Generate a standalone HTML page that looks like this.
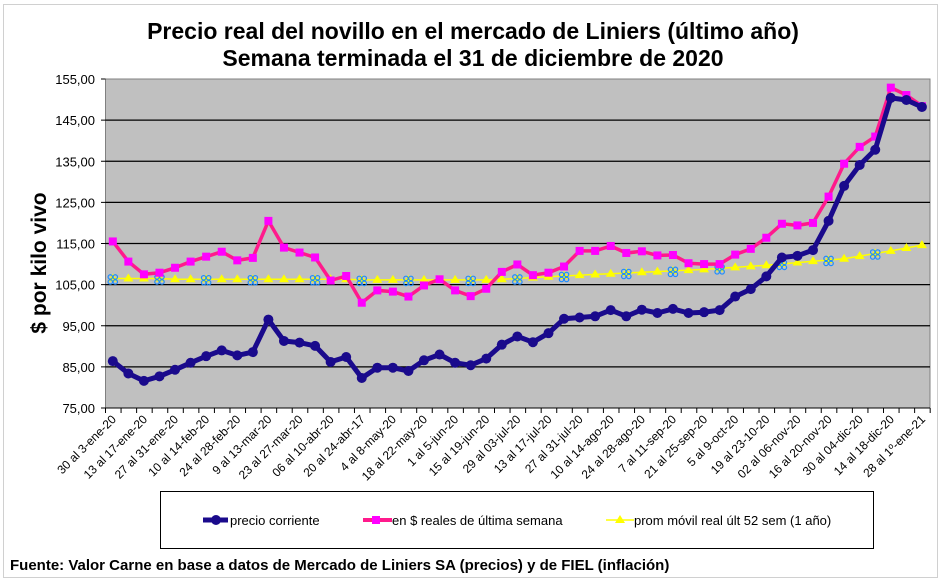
<!DOCTYPE html>
<html><head><meta charset="utf-8"><style>
html,body{margin:0;padding:0;background:#fff;}
svg{display:block;font-family:"Liberation Sans",Arial,sans-serif;}
</style></head><body>
<svg id="s" width="947" height="583" xmlns="http://www.w3.org/2000/svg">
<rect x="3.5" y="4.5" width="934" height="573" fill="#fff" stroke="#d0d0d0"/>
<text x="473" y="39" text-anchor="middle" font-weight="bold" font-size="23">Precio real del novillo en el mercado de Liniers (último año)</text>
<text x="473" y="66" text-anchor="middle" font-weight="bold" font-size="23">Semana terminada el 31 de diciembre de 2020</text>
<rect x="105.5" y="79" width="824.5" height="329" fill="#c0c0c0" stroke="#808080"/>
<g id="grid"></g>
<text transform="translate(46,263) rotate(-90)" text-anchor="middle" font-weight="bold" font-size="21">$ por kilo vivo</text>
<g id="ser"></g>
<rect x="160.5" y="491.5" width="713" height="57" fill="#fff" stroke="#000"/>
<line x1="203" y1="520" x2="228" y2="520" stroke="#1a0a8c" stroke-width="5"/><circle cx="216" cy="520" r="5" fill="#1a0a8c"/>
<text x="230" y="525" font-size="13">precio corriente</text>
<line x1="363" y1="520" x2="392" y2="520" stroke="#ff1a8c" stroke-width="4"/><rect x="372" y="516" width="8" height="8" fill="#ff00ff"/>
<text x="392" y="525" font-size="13">en $ reales de última semana</text>
<line x1="606" y1="520" x2="634" y2="520" stroke="#ffff00" stroke-width="1.5"/><polygon points="620,515 625,523 615,523" fill="#ffff00"/>
<text x="634" y="525" font-size="13">prom móvil real últ 52 sem (1 año)</text>
<text x="10" y="570" font-weight="bold" font-size="15">Fuente: Valor Carne en base a datos de Mercado de Liniers SA (precios) y de FIEL (inflación)</text>
</svg>
<script>
var NS="http://www.w3.org/2000/svg";
function el(p,t,a,txt){var e=document.createElementNS(NS,t);for(var k in a)e.setAttribute(k,a[k]);if(txt!=null)e.textContent=txt;p.appendChild(e);return e;}
var g=document.getElementById('grid'),S=document.getElementById('ser');
function Y(v){return 408-(v-75)*4.1125;}
function X(i){return 112.8+i*15.56;}
for(var v=75;v<=155;v+=10){var y=Y(v);
 if(v>75&&v<155)el(g,'line',{x1:105.5,y1:y,x2:930,y2:y,stroke:'#000','stroke-width':1.2});
 el(g,'line',{x1:101,y1:y,x2:105.5,y2:y,stroke:'#000'});
 el(g,'text',{x:95,y:y+5,'text-anchor':'end','font-size':13},v.toFixed(2).replace('.',','));}
el(g,'line',{x1:105.5,y1:408,x2:930,y2:408,stroke:'#000'});
for(var i=0;i<=53;i++){var x=105.5+i*15.56;el(g,'line',{x1:x,y1:408,x2:x,y2:413,stroke:'#000'});}
var labs=["30 al 3-ene-20","13 al 17-ene-20","27 al 31-ene-20","10 al 14-feb-20","24 al 28-feb-20","9 al 13-mar-20","23 al 27-mar-20","06 al 10-abr-20","20 al 24-abr-17","4 al 8-may-20","18 al 22-may-20","1 al 5-jun-20","15 al 19-jun-20","29 al 03-jul-20","13 al 17-jul-20","27 al 31-jul-20","10 al 14-ago-20","24 al 28-ago-20","7 al 11-sep-20","21 al 25-sep-20","5 al 9-oct-20","19 al 23-10-20","02 al 06-nov-20","16 al 20-nov-20","30 al 04-dic-20","14 al 18-dic-20","28 al 1º-ene-21"];
labs.forEach(function(t,k){var x=X(2*k)+4,y=420;el(g,'text',{transform:'translate('+x+','+y+') rotate(-45)','text-anchor':'end','font-size':12},t);});
var blue=[86.4,83.4,81.6,82.7,84.3,86,87.6,89,87.8,88.6,96.5,91.3,90.9,90.1,86.2,87.4,82.3,84.8,84.8,84,86.6,88,86,85.4,87,90.4,92.4,91,93.2,96.7,97,97.3,98.8,97.3,98.9,98.1,99.1,98.1,98.3,98.8,102.1,103.9,107,111.6,112,113.4,120.5,129,134.1,137.8,150.4,149.9,148.2];
var pink=[115.5,110.6,107.5,107.9,109.1,110.6,111.8,113,110.9,111.5,120.5,114,112.8,111.6,106,107.1,100.6,103.6,103.3,102.1,104.8,106.3,103.6,102.2,104,108.1,109.9,107.3,107.9,109.4,113.2,113.2,114.4,112.7,113.1,112.1,112.2,110.2,110,110,112.3,113.7,116.4,119.8,119.4,120,126.4,134.4,138.5,141,152.9,151.1,148.4];
var yel=[];for(var i=0;i<53;i++){var v;
 if(i<=25)v=106.3+(i<4?0.2:0)-(i>15&&i<25?0.15:0);
 else{var kp=[[25,106.3],[30,107.3],[38,108.7],[42,109.7],[45,110.7],[47,111.3],[50,113.2],[52,114.6]];for(var j=0;j<kp.length-1;j++)if(i>=kp[j][0]&&i<=kp[j+1][0]){v=kp[j][1]+(kp[j+1][1]-kp[j][1])*(i-kp[j][0])/(kp[j+1][0]-kp[j][0]);break;}}
 yel.push(v);}
function pts(a){return a.map(function(v,i){return X(i).toFixed(1)+','+Y(v).toFixed(1);}).join(' ');}
el(S,'polyline',{points:pts(yel),fill:'none',stroke:'#ffff00','stroke-width':1.5});
yel.forEach(function(v,i){var x=X(i),y=Y(v);el(S,'polygon',{points:(x)+','+(y-5)+' '+(x+5)+','+(y+3)+' '+(x-5)+','+(y+3),fill:'#ffff00'});});
[0,3,6,9,13,16,19,23,26,29,33,36,39,43,46,49].forEach(function(i){var x=X(i),y=Y(yel[i])+1;
 [[-2.5,-2.5],[2.5,-2.5],[-2.5,2.5],[2.5,2.5]].forEach(function(d){el(S,'circle',{cx:x+d[0],cy:y+d[1],r:2.2,fill:'none',stroke:'#1e8cff','stroke-width':1.2});});});
el(S,'polyline',{points:pts(pink),fill:'none',stroke:'#ff1a8c','stroke-width':3.5,'stroke-linejoin':'round'});
pink.forEach(function(v,i){el(S,'rect',{x:X(i)-4,y:Y(v)-4,width:8,height:8,fill:'#ff00ff'});});
el(S,'polyline',{points:pts(blue),fill:'none',stroke:'#1a0a8c','stroke-width':5,'stroke-linejoin':'round'});
blue.forEach(function(v,i){el(S,'circle',{cx:X(i),cy:Y(v),r:5,fill:'#1a0a8c'});});
</script>
</body></html>
